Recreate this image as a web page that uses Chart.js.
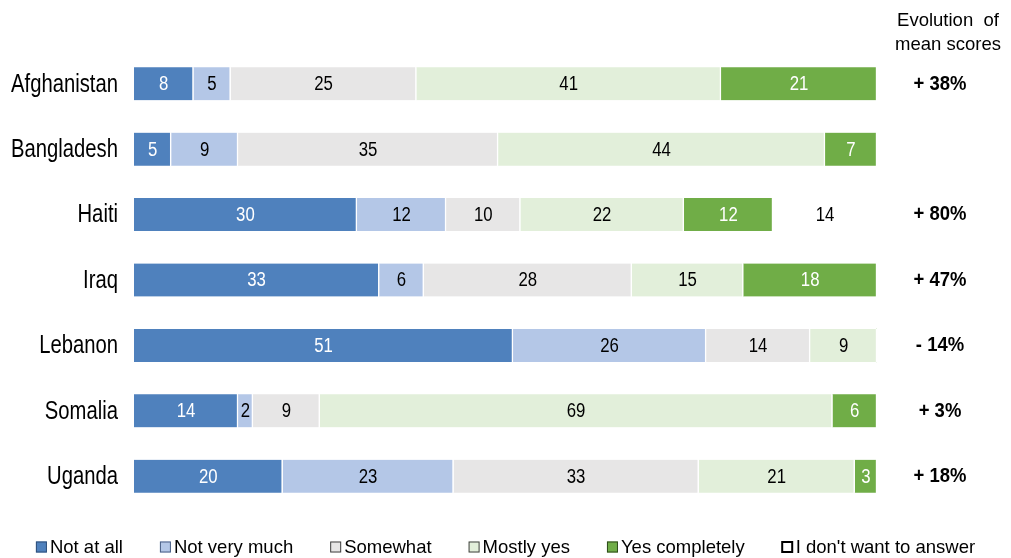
<!DOCTYPE html>
<html>
<head>
<meta charset="utf-8">
<script src="https://cdn.jsdelivr.net/npm/chart.js@4.4.1/dist/chart.umd.min.js"></script>
<style>
  html, body { margin: 0; padding: 0; background: #fff; }
  #wrap { width: 1011px; height: 558px; position: relative; }
</style>
</head>
<body>
<div id="wrap"><canvas id="trustChart"></canvas></div>
<script>
/* -------------------- DATA -------------------- */
const countries = ["Afghanistan", "Bangladesh", "Haiti", "Iraq", "Lebanon", "Somalia", "Uganda"];

const notAtAll      = [8, 5, 30, 33, 51, 14, 20];
const notVeryMuch   = [5, 9, 12, 6, 26, 2, 23];
const somewhat      = [25, 35, 10, 28, 14, 9, 33];
const mostlyYes     = [41, 44, 22, 15, 9, 69, 21];
const yesCompletely = [21, 7, 12, 18, 0, 6, 3];
const noAnswer      = [0, 0, 14, 0, 0, 0, 0];

const evolution = ["+ 38%", "", "+ 80%", "+ 47%", "- 14%", "+ 3%", "+ 18%"];

const FONT = "'Liberation Sans', Arial, sans-serif";

// draws text squeezed horizontally around its anchor point (narrow look)
function narrowText(ctx, text, x, y, squeeze) {
  ctx.save();
  ctx.translate(x, y);
  ctx.scale(squeeze, 1);
  ctx.fillText(text, 0, 0);
  ctx.restore();
}

/* -------------------- PLUGINS -------------------- */
// country names next to each bar
const countryLabels = {
  id: "countryLabels",
  afterDraw(chart) {
    const ctx = chart.ctx;
    const yScale = chart.scales.y;
    ctx.save();
    ctx.fillStyle = "#000";
    ctx.font = "25px " + FONT;
    ctx.textAlign = "right";
    ctx.textBaseline = "middle";
    chart.data.labels.forEach((name, i) => {
      narrowText(ctx, name, chart.chartArea.left - 16, yScale.getPixelForValue(i) + 1, 0.81);
    });
    ctx.restore();
  }
};

// value written in the middle of each segment
const segmentLabels = {
  id: "segmentLabels",
  afterDatasetsDraw(chart) {
    const ctx = chart.ctx;
    ctx.save();
    ctx.font = "19.5px " + FONT;
    ctx.textAlign = "center";
    ctx.textBaseline = "middle";
    chart.data.datasets.forEach((ds, i) => {
      const meta = chart.getDatasetMeta(i);
      meta.data.forEach((bar, j) => {
        const v = ds.data[j];
        if (!v) return;
        ctx.fillStyle = ds.labelColor;
        narrowText(ctx, String(v), (bar.x + bar.base) / 2, bar.y + 1, 0.86);
      });
    });
    ctx.restore();
  }
};

// column of mean score evolution on the right
const evolutionColumn = {
  id: "evolutionColumn",
  afterDraw(chart) {
    const ctx = chart.ctx;
    const yScale = chart.scales.y;
    ctx.save();
    ctx.fillStyle = "#000";
    ctx.textAlign = "center";
    ctx.textBaseline = "middle";
    ctx.font = "18.5px " + FONT;
    ctx.fillText("Evolution  of", 948, 21);
    ctx.fillText("mean scores", 948, 45);
    ctx.font = "bold 21px " + FONT;
    evolution.forEach((txt, i) => {
      if (txt) narrowText(ctx, txt, 940, yScale.getPixelForValue(i), 0.88);
    });
    ctx.restore();
  }
};

// legend row along the bottom
const bottomLegend = {
  id: "bottomLegend",
  afterDraw(chart) {
    const ctx = chart.ctx;
    const box = 11, gap = 3, spacing = 37, y = 547;
    ctx.save();
    ctx.font = "18.5px " + FONT;
    ctx.textBaseline = "middle";
    ctx.textAlign = "left";
    const items = chart.data.datasets.map(ds => ({ ds, w: box + gap + ctx.measureText(ds.label).width }));
    const total = items.reduce((s, it) => s + it.w, 0) + spacing * (items.length - 1);
    let x = (chart.width - total) / 2;
    items.forEach((it, i) => {
      ctx.fillStyle = it.ds.backgroundColor;
      ctx.fillRect(x, y - box / 2, box, box);
      ctx.strokeStyle = it.ds.legendBorder;
      ctx.lineWidth = i === items.length - 1 ? 2 : 1;
      ctx.strokeRect(x + 0.5, y - box / 2 + 0.5, box - 1, box - 1);
      ctx.fillStyle = "#000";
      ctx.fillText(it.ds.label, x + box + gap, y + 1);
      x += it.w + spacing;
    });
    ctx.restore();
  }
};

/* -------------------- CHART -------------------- */
const seg = (label, data, color, labelColor, border) => ({
  label,
  data,
  backgroundColor: color,
  borderColor: "#ffffff",
  borderWidth: { left: 0, top: 0, bottom: 0, right: 1.5 },
  borderSkipped: false,
  labelColor,
  legendBorder: border
});

const datasets = [
  seg("Not at all", notAtAll, "#4f81bd", "#ffffff", "#2f4f7a"),
  seg("Not very much", notVeryMuch, "#b4c7e7", "#000000", "#4a5f85"),
  seg("Somewhat", somewhat, "#e7e6e6", "#000000", "#404040"),
  seg("Mostly yes", mostlyYes, "#e2efda", "#000000", "#404040"),
  seg("Yes completely", yesCompletely, "#70ad47", "#ffffff", "#2e4a1c"),
  seg("I don't want to answer", noAnswer, "#ffffff", "#000000", "#000000")
];

new Chart(document.getElementById("trustChart"), {
  type: "bar",
  data: { labels: countries, datasets },
  options: {
    indexAxis: "y",
    responsive: true,
    maintainAspectRatio: false,
    animation: false,
    layout: { padding: { top: 51, right: 134, left: 0, bottom: 49 } },
    datasets: { bar: { barThickness: 33 } },
    scales: {
      x: {
        stacked: true,
        min: 0,
        max: 100,
        display: false
      },
      y: {
        stacked: true,
        grid: { display: false },
        border: { display: false },
        ticks: { display: false },
        afterFit(scale) { scale.width = 134; }
      }
    },
    plugins: {
      tooltip: { enabled: false },
      legend: { display: false }
    }
  },
  plugins: [segmentLabels, countryLabels, evolutionColumn, bottomLegend]
});
</script>
</body>
</html>
